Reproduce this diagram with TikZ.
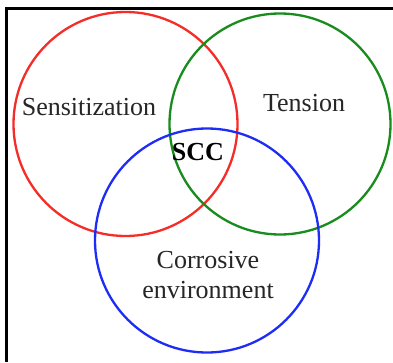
\documentclass[tikz,border=0pt]{standalone}
\usepackage{fontspec}
\setmainfont{Liberation Serif}
\definecolor{vred}{RGB}{245,45,40}
\definecolor{vgreen}{RGB}{25,140,30}
\definecolor{vblue}{RGB}{30,45,245}
\begin{document}
\begin{tikzpicture}[x=1pt,y=-1pt,
  ring/.style={circle, line width=2.3pt, inner sep=0pt, minimum size=#1},
  lbl/.style={font=\fontsize{26}{30}\selectfont, text=black!85, align=center, inner sep=0pt},
  frame/.style={line width=3pt, black}]
\useasboundingbox (0,0) rectangle (393,362);
\fill[white] (0,0) rectangle (393,362);
\coordinate (ftr) at (393,8);
\coordinate (ftl) at (6,8);
\coordinate (fbl) at (6,362);
\draw[frame] (ftr) -- (ftl) -- (fbl);
\node[ring=224pt, draw=vred] (sens) at (125.5,124) {};
\node[ring=221pt, draw=vgreen] (tens) at (280,124) {};
\node[ring=224pt, draw=vblue] (corr) at (207,240.5) {};
\node[lbl] (tsens) at (89,107) {Sensitization};
\node[lbl] (ttens) at (304,103) {Tension};
\node[lbl, font=\fontsize{26}{30}\selectfont\bfseries, text=black] (tscc) at (198,152) {SCC};
\node[lbl] (tcorr) at (208,275) {Corrosive\\environment};
\end{tikzpicture}
\end{document}
